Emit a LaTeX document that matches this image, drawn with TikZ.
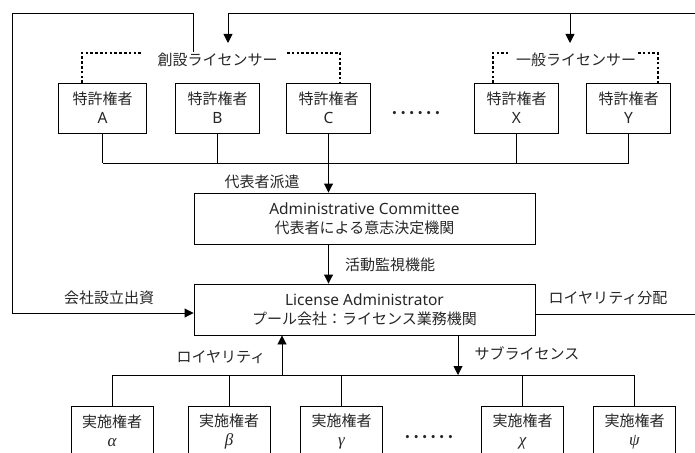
\documentclass[tikz,border=0pt]{standalone}
\usepackage{fontspec}
\setmainfont{Noto Sans CJK JP}
\newfontfamily\latfam{Noto Sans}
\newfontfamily\grkfam{Liberation Serif}
\newcommand\latn[1]{{\latfam\fontsize{15.5}{19}\selectfont #1}}
\newcommand\grkn[1]{{\grkfam\itshape\fontsize{17}{19}\selectfont #1}}
\usetikzlibrary{arrows.meta}
\begin{document}
\begin{tikzpicture}[x=1pt,y=-1pt,
  every node/.style={font=\fontsize{15}{19}\selectfont, inner sep=0pt, text=black!85},
  box/.style={draw=black, line width=0.9pt, minimum width=84pt, minimum height=50pt, align=center},
  wide/.style={draw=black, line width=0.9pt, minimum width=341pt, minimum height=51pt, align=center},
  ln/.style={line width=0.9pt},
  arr/.style={ln, -{Triangle[length=9pt,width=9pt]}},
  dotl/.style={line width=2.6pt, dash pattern=on 2.6pt off 2.2pt},
  ellip/.style={anchor=base, font=\fontsize{15}{19}\selectfont\bfseries\addfontfeature{LetterSpace=22}}]
\useasboundingbox (0,0) rectangle (695,452);
\clip (0,0) rectangle (695,452);

% licensor boxes
\node[box, minimum width=88pt] (pA) at (102.5,108) {特許権者\\\latn{A}};
\node[box] (pB) at (217.5,108) {特許権者\\\latn{B}};
\node[box] (pC) at (328.5,108) {特許権者\\\latn{C}};
\node[box] (pX) at (516.5,108) {特許権者\\\latn{X}};
\node[box] (pY) at (628.5,108) {特許権者\\\latn{Y}};
\node[ellip] (dotsT) at (416,114.5) {......};

% group labels
\node (founders) at (217.5,60) {創設ライセンサー};
\node (general) at (576,60) {一般ライセンサー};
\draw[dotl] (82,83) -- (82,53) -- (143,53);
\draw[dotl] (287,53) -- (340,53) -- (340,83);
\draw[dotl] (493,83) -- (493,53) -- (508,53);
\draw[dotl] (638,53) -- (658,53) -- (658,83);

% committee and pool company
\node[wide] (admin) at (364.5,218.5) {\latn{Administrative Committee}\\代表者による意志決定機関};
\node[wide] (lic) at (364.5,309.5) {\latn{License Administrator}\\プール会社：ライセンス業務機関};

% bus from licensors
\coordinate (busT) at (0,163);
\draw[ln] (pA.south) -- (pA.south |- busT);
\draw[ln] (pB.south) -- (pB.south |- busT);
\draw[ln] (pC.south) -- (pC.south |- busT);
\draw[ln] (pX.south) -- (pX.south |- busT);
\draw[ln] (pY.south) -- (pY.south |- busT);
\draw[ln] (pA.south |- busT) -- (pY.south |- busT);
\draw[arr] (pC.south |- busT) -- (pC.south |- admin.north);
\node (send) at (262,182) {代表者派遣};
\draw[arr] (pC.south |- admin.south) -- (pC.south |- lic.north);
\node[anchor=west] (monitor) at (345,265) {活動監視機能};

% left loop: capital
\coordinate (fnd) at (193,52);
\coordinate (capL) at (12,13);
\coordinate (capIn) at (0,313);
\draw[arr] (fnd) |- (capL) |- (lic.west |- capIn);
\node (capital) at (109,298) {会社設立出資};

% right loop: royalty distribution
\coordinate (distIn) at (0,314);
\coordinate (distR) at (700,314);
\draw[ln] (lic.east |- distIn) -- (distR);
\node (dist) at (608,298) {ロイヤリティ分配};
\coordinate (topL) at (228,13);
\coordinate (topM) at (570,13);
\coordinate (topR) at (700,13);
\draw[ln] (topL) -- (topR);
\draw[arr] (topL) -- (228,43);
\draw[arr] (topM) -- (570,43);

% licensee boxes
\node[box, minimum width=82pt] (lAl) at (112,431) {実施権者\\\grkn{α}};
\node[box, minimum width=82pt] (lBe) at (229,431) {実施権者\\\grkn{β}};
\node[box, minimum width=82pt] (lGa) at (341.5,431) {実施権者\\\grkn{γ}};
\node[box, minimum width=82pt] (lCh) at (522.5,431) {実施権者\\\grkn{χ}};
\node[box, minimum width=82pt] (lPs) at (634.5,431) {実施権者\\\grkn{ψ}};
\node[ellip] (dotsB) at (429,438.5) {......};

\coordinate (busB) at (0,375);
\draw[ln] (lAl.north) -- (lAl.north |- busB);
\draw[ln] (lBe.north) -- (lBe.north |- busB);
\draw[ln] (lGa.north) -- (lGa.north |- busB);
\draw[ln] (lCh.north) -- (lCh.north |- busB);
\draw[ln] (lPs.north) -- (lPs.north |- busB);
\draw[ln] (lAl.north |- busB) -- (lPs.north |- busB);
\coordinate (royX) at (282,0);
\coordinate (subX) at (458,0);
\draw[arr] (royX |- busB) -- (royX |- lic.south);
\draw[arr] (subX |- lic.south) -- (subX |- busB);
\node (roy) at (221,357) {ロイヤリティ};
\node (sub) at (527,353) {サブライセンス};
\end{tikzpicture}
\end{document}
